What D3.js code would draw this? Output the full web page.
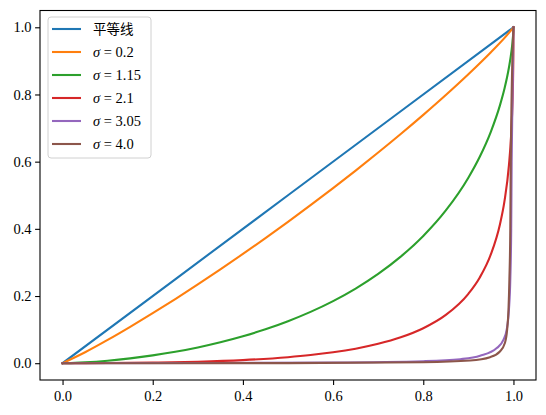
<!DOCTYPE html>
<html><head><meta charset="utf-8">
<script src="https://cdn.jsdelivr.net/npm/d3@7"></script>
<style>
body{margin:0;background:#fff;}
text{font-family:"Liberation Serif","DejaVu Serif",serif;}
</style></head>
<body><svg id="c" width="546" height="415"></svg>
<script>
// ---- data ----
const labels = ["平等线", "0.2", "1.15", "2.1", "3.05", "4.0"];
const colors = ["#1f77b4", "#ff7f0e", "#2ca02c", "#d62728", "#9467bd", "#8c564b"];
const xTicks = [0.0, 0.2, 0.4, 0.6, 0.8, 1.0];
const yTicks = [0.0, 0.2, 0.4, 0.6, 0.8, 1.0];

const pEqual = [0, 0.5, 1];
const lEqual = [0, 0.5, 1];

const pS020 = [0,0.05,0.1,0.15,0.2,0.25,0.3,0.35,0.4,0.45,0.5,0.55,0.6,0.65,0.7,0.75,0.8,0.85,0.9,0.95,0.99,1];
const lS020 = [0,0.0325,0.0692,0.1082,0.1488,0.1909,0.2344,0.2792,0.3252,0.3723,0.4207,0.4704,0.5213,0.5735,0.6272,0.6824,0.7394,0.7985,0.8603,0.9258,0.9833,1];

const pS115 = [0,0.01,0.05,0.1,0.15,0.2,0.25,0.3,0.35,0.4,0.45,0.5,0.55,0.6,0.65,0.7,0.75,0.8,0.85,0.9,0.925,0.95,0.97,0.98,0.99,0.995,0.999,0.9999,1];
const lS115 = [0,0.00025,0.0026,0.0075,0.0144,0.0232,0.0340,0.0470,0.0624,0.0803,0.1010,0.1251,0.1528,0.1849,0.2222,0.2658,0.3172,0.3789,0.4548,0.5523,0.6139,0.6897,0.7675,0.8169,0.8803,0.9230,0.9738,0.9949,1];

const pS210 = [0,0.05,0.1,0.2,0.3,0.4,0.5,0.55,0.6,0.65,0.7,0.75,0.8,0.85,0.9,0.925,0.95,0.97,0.98,0.99,0.995,0.998,0.999,0.9995,0.9999,1];
const lS210 = [0,0.0001,0.0004,0.0016,0.0043,0.0093,0.0179,0.0242,0.0324,0.0432,0.0576,0.0770,0.1041,0.1437,0.2066,0.2545,0.3245,0.4132,0.4815,0.5895,0.6829,0.7818,0.8390,0.8831,0.9473,1];

const pS305 = [0,0.3,0.6,0.8,0.882,0.926,0.963,0.978,0.985,0.990,0.993,0.995,0.996,0.998,1];
const lS305 = [0,0.0005,0.002,0.006,0.012,0.022,0.045,0.07,0.1,0.16,0.25,0.4,0.6,0.8,1];

const pS400 = [0,0.5,0.8,0.904,0.948,0.970,0.981,0.986,0.989,0.991,0.993,0.994,0.996,1];
const lS400 = [0,0.0002,0.003,0.008,0.018,0.035,0.06,0.1,0.16,0.25,0.4,0.6,0.8,1];

const seriesP = [pEqual, pS020, pS115, pS210, pS305, pS400];
const seriesL = [lEqual, lS020, lS115, lS210, lS305, lS400];

// ---- layout ----
const svg = d3.select("#c");
const L = 40, R = 536, T = 10.5, B = 380;
const x = d3.scaleLinear().domain([-0.05, 1.05]).range([L, R]);
const y = d3.scaleLinear().domain([-0.05, 1.05]).range([B, T]);

const line = d3.line().x(d => x(d[0])).y(d => y(d[1])).curve(d3.curveMonotoneX);

seriesP.forEach((ps, i) => {
  const pts = ps.map((p, j) => [p, seriesL[i][j]]);
  svg.append("path").attr("d", line(pts)).attr("fill", "none")
    .attr("stroke", colors[i]).attr("stroke-width", 2.1)
    .attr("stroke-linejoin", "round").attr("stroke-linecap", "square");
});

// axes
const xAxis = d3.axisBottom(x).tickValues(xTicks).tickFormat(d3.format(".1f")).tickSize(4.9).tickPadding(6);
const yAxis = d3.axisLeft(y).tickValues(yTicks).tickFormat(d3.format(".1f")).tickSize(4.9).tickPadding(3.5);
const gx = svg.append("g").attr("transform", `translate(0,${B})`).call(xAxis);
const gy = svg.append("g").attr("transform", `translate(${L},0)`).call(yAxis);
[gx, gy].forEach(g => {
  g.select(".domain").remove();
  g.selectAll("line").attr("stroke", "#000").attr("stroke-width", 1.1);
  g.selectAll("text").attr("font-size", 14.5).attr("fill", "#000")
    .style("font-family", '"Liberation Serif","DejaVu Serif",serif');
});
svg.append("rect").attr("x", L).attr("y", T).attr("width", R - L).attr("height", B - T)
  .attr("fill", "none").attr("stroke", "#000").attr("stroke-width", 1.1);

// legend
const lg = svg.append("g");
lg.append("rect").attr("x", 48).attr("y", 17).attr("width", 103).attr("height", 141)
  .attr("rx", 3).attr("fill", "#fff").attr("fill-opacity", 0.8)
  .attr("stroke", "#d0d0d0").attr("stroke-width", 1);
labels.forEach((lab, i) => {
  const cy = 29 + i * 23;
  lg.append("line").attr("x1", 52).attr("x2", 81).attr("y1", cy).attr("y2", cy)
    .attr("stroke", colors[i]).attr("stroke-width", 2.1);
  const t = lg.append("text").attr("x", 93).attr("y", cy + 5).attr("font-size", 14.5).attr("fill", "#000");
  if (i === 0) {
    t.text(lab).style("font-family", '"Noto Sans CJK SC",sans-serif').attr("font-size", 13.5);
  } else {
    t.append("tspan").attr("font-style", "italic").text("σ");
    t.append("tspan").text(" = " + lab);
  }
});
</script></body></html>
